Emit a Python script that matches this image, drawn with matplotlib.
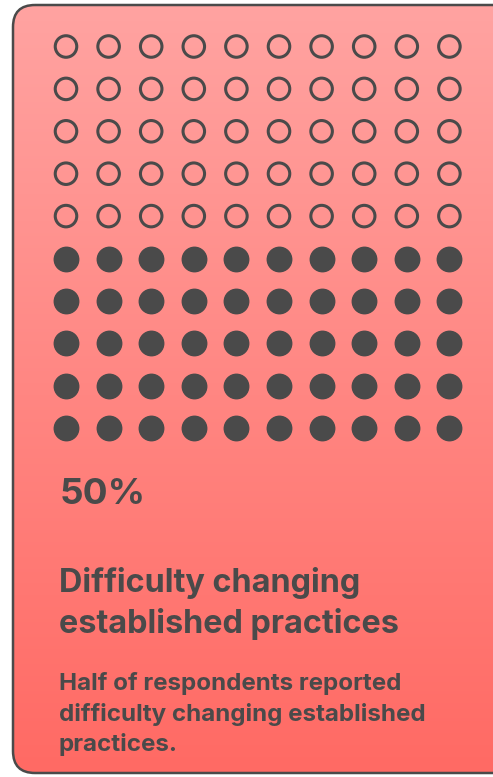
import matplotlib
matplotlib.use("Agg")
import matplotlib.pyplot as plt
import numpy as np
from matplotlib.patches import FancyBboxPatch
from matplotlib.colors import LinearSegmentedColormap

# ---- data ----
percent = 50
n_rows = 10
n_cols = 10
value_label = "50%"
title_lines = ["Difficulty changing", "established practices"]
body_lines = ["Half of respondents reported",
              "difficulty changing established",
              "practices."]

W, H = 493, 777
fig = plt.figure(figsize=(W / 100, H / 100), dpi=100)
ax = fig.add_axes([0, 0, 1, 1])
ax.set_xlim(0, W)
ax.set_ylim(H, 0)
ax.axis("off")
fig.patch.set_facecolor("white")

txt_color = "#4a4a4a"

# card
card = FancyBboxPatch((13, 5), 510, 768, boxstyle="round,pad=0,rounding_size=22",
                      facecolor="none", edgecolor="#4a4a4a", linewidth=1.8, zorder=3)
ax.add_patch(card)
cmap = LinearSegmentedColormap.from_list("g", ["#ffa3a1", "#ff6a64"])
grad = np.linspace(0, 1, 256).reshape(-1, 1)
im = ax.imshow(grad, cmap=cmap, extent=(13, 523, 773, 5), aspect="auto", zorder=1)
clip = FancyBboxPatch((13, 5), 510, 768, boxstyle="round,pad=0,rounding_size=22",
                      facecolor="none", edgecolor="none", transform=ax.transData)
ax.add_patch(clip)
im.set_clip_path(clip)

# dot grid
x0, dx = 66, 42.6
y0, dy = 46.5, 42.4
total = n_rows * n_cols
n_filled = int(round(percent / 100 * total))
xs, ys, filled = [], [], []
for r in range(n_rows):
    for c in range(n_cols):
        idx_from_bottom = (n_rows - 1 - r) * n_cols + c
        xs.append(x0 + c * dx)
        ys.append(y0 + r * dy)
        filled.append(idx_from_bottom < n_filled)
xs = np.array(xs); ys = np.array(ys); filled = np.array(filled)
ax.scatter(xs[filled], ys[filled], s=310, color=txt_color, edgecolor=txt_color,
           linewidths=1, zorder=4)
ax.scatter(xs[~filled], ys[~filled], s=240, facecolor="none", edgecolor=txt_color,
           linewidths=2.2, zorder=4)

# texts
fam = ["Inter", "DejaVu Sans"]
ax.text(60, 504, value_label, fontsize=26.5, fontweight="bold", color=txt_color,
        family=fam, va="baseline", ha="left", zorder=5)
for i, line in enumerate(title_lines):
    ax.text(59, 592 + i * 41.5, line, fontsize=23.3, fontweight="bold", color=txt_color,
            family=fam, va="baseline", ha="left", zorder=5)
for i, line in enumerate(body_lines):
    ax.text(59, 690 + i * 30.5, line, fontsize=17.4, fontweight="bold", color=txt_color,
            family=fam, va="baseline", ha="left", zorder=5)

fig.savefig("out.png", dpi=100)
